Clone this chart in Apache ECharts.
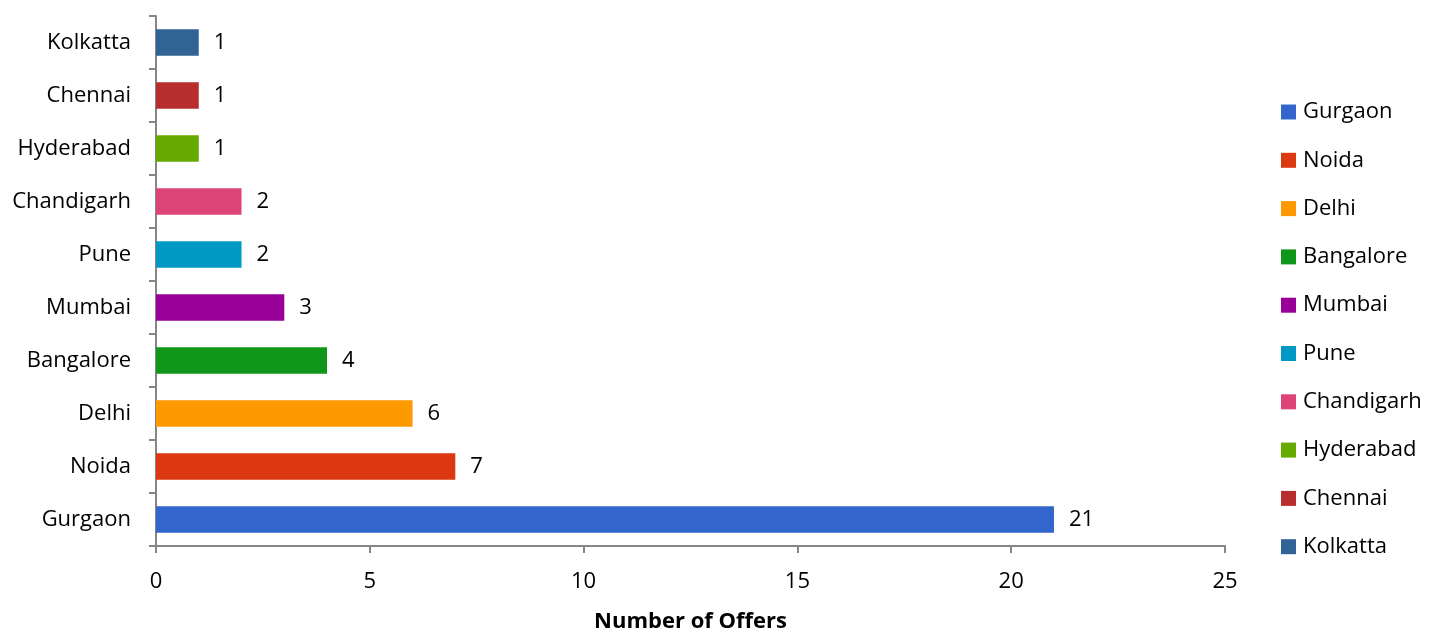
<!DOCTYPE html>
<html><head><meta charset="utf-8">
<script src="https://cdn.jsdelivr.net/npm/echarts@6/dist/echarts.min.js"></script>
<style>html,body{margin:0;padding:0;background:#fff}#c{width:1429px;height:630px}</style>
</head><body><div id="c"></div>
<script>
const categories = ['Gurgaon','Noida','Delhi','Bangalore','Mumbai','Pune','Chandigarh','Hyderabad','Chennai','Kolkatta'];
const offers = [21,7,6,4,3,2,2,1,1,1];
const colors = ['#3366CC','#DC3912','#FF9900','#109618','#990099','#0099C6','#DD4477','#66AA00','#B82E2E','#316395'];
const xTicks = {min:0, max:25, interval:5};
const xTitle = 'Number of Offers';

const FONT = 'Open Sans';
const series = categories.map((c,i)=>({
  name:c, type:'bar', stack:'all', barWidth:'50%',
  itemStyle:{color:colors[i]},
  label:{show:true, position:'right', distance:15, color:'#000', fontFamily:FONT, fontSize:22},
  data: categories.map((_,j)=> j===i ? offers[i] : '-')
}));
const chart = echarts.init(document.getElementById('c'));
chart.setOption({
  animation:false,
  grid:{left:156, right:204, top:16, bottom:84, containLabel:false, outerBoundsMode:'none'},
  legend:{orient:'vertical', left:1281, top:101, padding:0, itemWidth:15, itemHeight:15, itemGap:26.3,
    icon:'rect', data:categories,
    textStyle:{fontFamily:FONT, fontSize:22, lineHeight:22, color:'#000', padding:[0,0,0,2]}},
  xAxis:{type:'value', min:xTicks.min, max:xTicks.max, interval:xTicks.interval,
    name:xTitle, nameLocation:'middle', nameGap:65,
    nameTextStyle:{fontFamily:FONT, fontSize:22, fontWeight:'bold', color:'#000'},
    axisLine:{show:true, lineStyle:{color:'#868686', width:2}},
    axisTick:{show:true, inside:false, length:7, lineStyle:{color:'#868686', width:2}},
    axisLabel:{fontFamily:FONT, fontSize:22, color:'#000', margin:25},
    splitLine:{show:false}},
  yAxis:{type:'category', data:categories,
    axisLine:{show:true, lineStyle:{color:'#868686', width:2}},
    axisTick:{show:true, inside:false, length:7, lineStyle:{color:'#868686', width:2}},
    axisLabel:{fontFamily:FONT, fontSize:22, color:'#000', margin:25}},
  series
});
</script></body></html>
